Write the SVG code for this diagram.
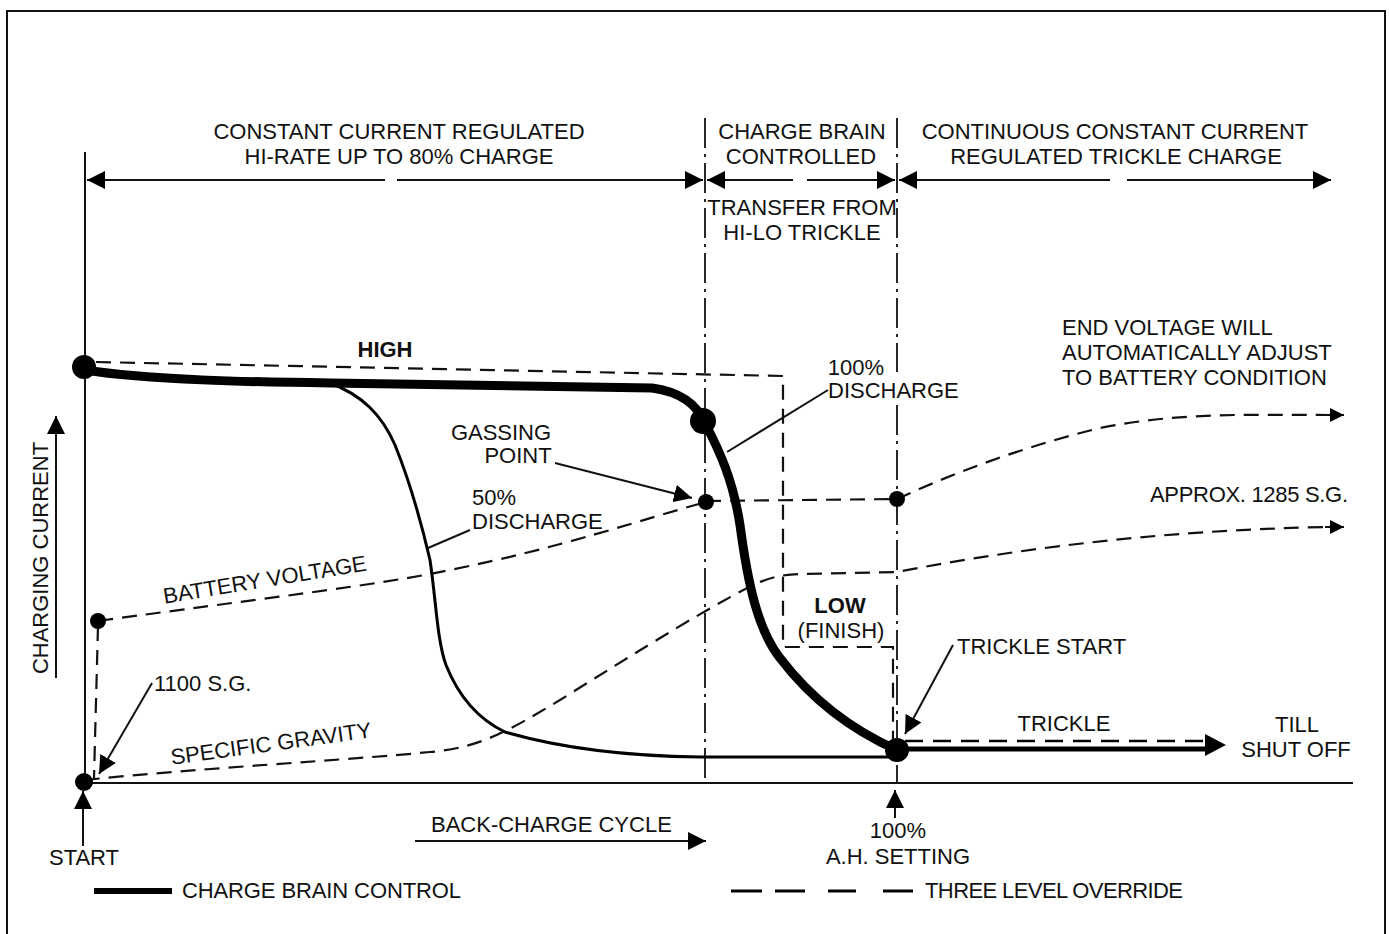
<svg xmlns="http://www.w3.org/2000/svg" width="1390" height="934" viewBox="0 0 1390 934">
<defs>
<style>
text{font-family:"Liberation Sans",Arial,sans-serif;font-size:22px;fill:#111}
.b{font-weight:bold}
.m{text-anchor:middle}
.thin{fill:none;stroke:#111;stroke-width:2}
.dash{fill:none;stroke:#111;stroke-width:2.2;stroke-dasharray:15 9}
.dd{fill:none;stroke:#111;stroke-width:1.8;stroke-dasharray:30 6 3 6}
.thick{fill:none;stroke:#000;stroke-width:9;stroke-linecap:round;stroke-linejoin:round}
.dot{fill:#000}
</style>
<marker id="ar" viewBox="0 0 10 10" refX="10" refY="5" markerWidth="14" markerHeight="14" markerUnits="userSpaceOnUse" orient="auto-start-reverse"><path d="M0,0 L10,5 L0,10 Z" fill="#000"/></marker>
<marker id="arL" viewBox="0 0 10 10" refX="10" refY="5" markerWidth="18" markerHeight="18" markerUnits="userSpaceOnUse" orient="auto-start-reverse"><path d="M0,0 L10,5 L0,10 Z" fill="#000"/></marker>
</defs>

<g id="frame"><path d="M7,940 V11 H1385 V940" fill="none" stroke="#111" stroke-width="2"/></g>

<g id="axes">
<line x1="85" y1="152" x2="85" y2="783" stroke="#111" stroke-width="2"/>
<line x1="85" y1="783" x2="1353" y2="783" stroke="#111" stroke-width="2"/>
<line x1="56" y1="678" x2="56" y2="416" stroke="#111" stroke-width="2" marker-end="url(#arL)"/>
<text transform="translate(48,558) rotate(-90)" class="m">CHARGING CURRENT</text>
</g>

<g id="connectors">
<line x1="87" y1="180" x2="385" y2="180" class="thin" marker-start="url(#arL)"/>
<line x1="397" y1="180" x2="703" y2="180" class="thin" marker-end="url(#arL)"/>
<line x1="707" y1="180" x2="793" y2="180" class="thin" marker-start="url(#arL)"/>
<line x1="807" y1="180" x2="895" y2="180" class="thin" marker-end="url(#arL)"/>
<line x1="899" y1="180" x2="1110" y2="180" class="thin" marker-start="url(#arL)"/>
<line x1="1127" y1="180" x2="1331" y2="180" class="thin" marker-end="url(#arL)"/>
<line x1="705" y1="118" x2="705" y2="783" class="dd"/>
<line x1="897" y1="118" x2="897" y2="372" class="dd"/>
<line x1="897" y1="405" x2="897" y2="783" class="dd"/>
<path d="M96,362 L783,376 L783,647 L893,647 L893,745" class="dash"/>
<line x1="98" y1="626" x2="94" y2="778" class="dash"/>
<path d="M98,621 C250,600 380,585 450,570 C560,548 640,520 706,502" class="dash"/>
<line x1="706" y1="501" x2="897" y2="499" class="dash"/>
<path d="M897,499 C960,470 1030,445 1100,428 C1180,412 1250,415 1330,415" class="dash"/>
<line x1="1325" y1="415" x2="1344" y2="415" class="thin" marker-end="url(#ar)"/>
<path d="M85,780 C200,768 350,760 430,752 C480,748 510,730 560,700 C640,650 720,600 760,582 C780,574 790,575 800,574 L897,572 C1000,552 1150,530 1330,527" class="dash"/>
<line x1="1325" y1="527" x2="1344" y2="527" class="thin" marker-end="url(#ar)"/>
<path d="M330,383 C362,395 382,415 395,445 C410,482 423,530 430,560 C436,600 437,640 446,665 C460,700 480,720 505,732 C560,748 620,756 700,757 L897,757" fill="none" stroke="#000" stroke-width="3"/>
<path d="M84,370 C150,380 250,382 330,383 L652,388 C682,392 697,405 705,423 C720,452 733,480 740,525 C748,585 758,630 780,658 C812,700 852,730 897,750" class="thick"/>
<line x1="897" y1="749" x2="1210" y2="749" stroke="#000" stroke-width="5"/>
<line x1="905" y1="741" x2="1208" y2="741" stroke="#000" stroke-width="2.5" stroke-dasharray="18 10"/>
<path d="M1205,734 L1226,745 L1205,756 Z" fill="#000"/>
<line x1="555" y1="463" x2="692" y2="498" class="thin" marker-end="url(#arL)"/>
<line x1="152" y1="683" x2="99" y2="774" class="thin" marker-end="url(#arL)"/>
<line x1="953" y1="645" x2="905" y2="734" class="thin" marker-end="url(#arL)"/>
<line x1="828" y1="390" x2="727" y2="452" class="thin"/>
<line x1="470" y1="530" x2="428" y2="548" class="thin"/>
<line x1="83" y1="846" x2="83" y2="791" class="thin" marker-end="url(#arL)"/>
<line x1="895" y1="818" x2="895" y2="790" class="thin" marker-end="url(#arL)"/>
<line x1="415" y1="841" x2="706" y2="841" class="thin" marker-end="url(#arL)"/>
</g>

<g id="dots">
<circle cx="84" cy="367" r="12" class="dot"/>
<circle cx="703" cy="421" r="13" class="dot"/>
<circle cx="897" cy="750" r="12" class="dot"/>
<circle cx="706" cy="502" r="8" class="dot"/>
<circle cx="897" cy="499" r="8" class="dot"/>
<circle cx="98" cy="621" r="8" class="dot"/>
<circle cx="84" cy="782" r="9" class="dot"/>
</g>

<g id="labels">
<text x="399" y="139" class="m">CONSTANT CURRENT REGULATED</text>
<text x="399" y="164" class="m">HI-RATE UP TO 80% CHARGE</text>
<text x="802" y="139" class="m">CHARGE BRAIN</text>
<text x="801" y="164" class="m">CONTROLLED</text>
<text x="1115" y="139" class="m">CONTINUOUS CONSTANT CURRENT</text>
<text x="1116" y="164" class="m">REGULATED TRICKLE CHARGE</text>
<text x="802" y="215" class="m">TRANSFER FROM</text>
<text x="802" y="240" class="m">HI-LO TRICKLE</text>
<text x="1062" y="335">END VOLTAGE WILL</text>
<text x="1062" y="360">AUTOMATICALLY ADJUST</text>
<text x="1062" y="385">TO BATTERY CONDITION</text>
<text x="385" y="357" class="m b">HIGH</text>
<text x="856" y="375" class="m">100%</text>
<text x="828" y="398">DISCHARGE</text>
<text x="501" y="440" class="m">GASSING</text>
<text x="518" y="463" class="m">POINT</text>
<text x="494" y="505" class="m">50%</text>
<text x="472" y="529">DISCHARGE</text>
<text transform="translate(266,587) rotate(-9.3)" class="m">BATTERY VOLTAGE</text>
<text x="1150" y="502" textLength="198">APPROX. 1285 S.G.</text>
<text x="840" y="613" class="m b">LOW</text>
<text x="841" y="638" class="m">(FINISH)</text>
<text x="957" y="654">TRICKLE START</text>
<text x="154" y="691">1100 S.G.</text>
<text transform="translate(272,751) rotate(-7.8)" class="m">SPECIFIC GRAVITY</text>
<text x="1064" y="731" class="m">TRICKLE</text>
<text x="1297" y="732" class="m">TILL</text>
<text x="1296" y="757" class="m">SHUT OFF</text>
<text x="84" y="865" class="m">START</text>
<text x="431" y="832">BACK-CHARGE CYCLE</text>
<text x="898" y="838" class="m">100%</text>
<text x="898" y="864" class="m">A.H. SETTING</text>
</g>

<g id="legend">
<line x1="94" y1="891" x2="172" y2="891" stroke="#000" stroke-width="6"/>
<text x="182" y="898" textLength="279">CHARGE BRAIN CONTROL</text>
<path d="M731,891 H762 M775,891 H805 M828,891 H856 M883,891 H913" stroke="#000" stroke-width="3" fill="none"/>
<text x="925" y="898" textLength="258">THREE LEVEL OVERRIDE</text>
</g>
</svg>
